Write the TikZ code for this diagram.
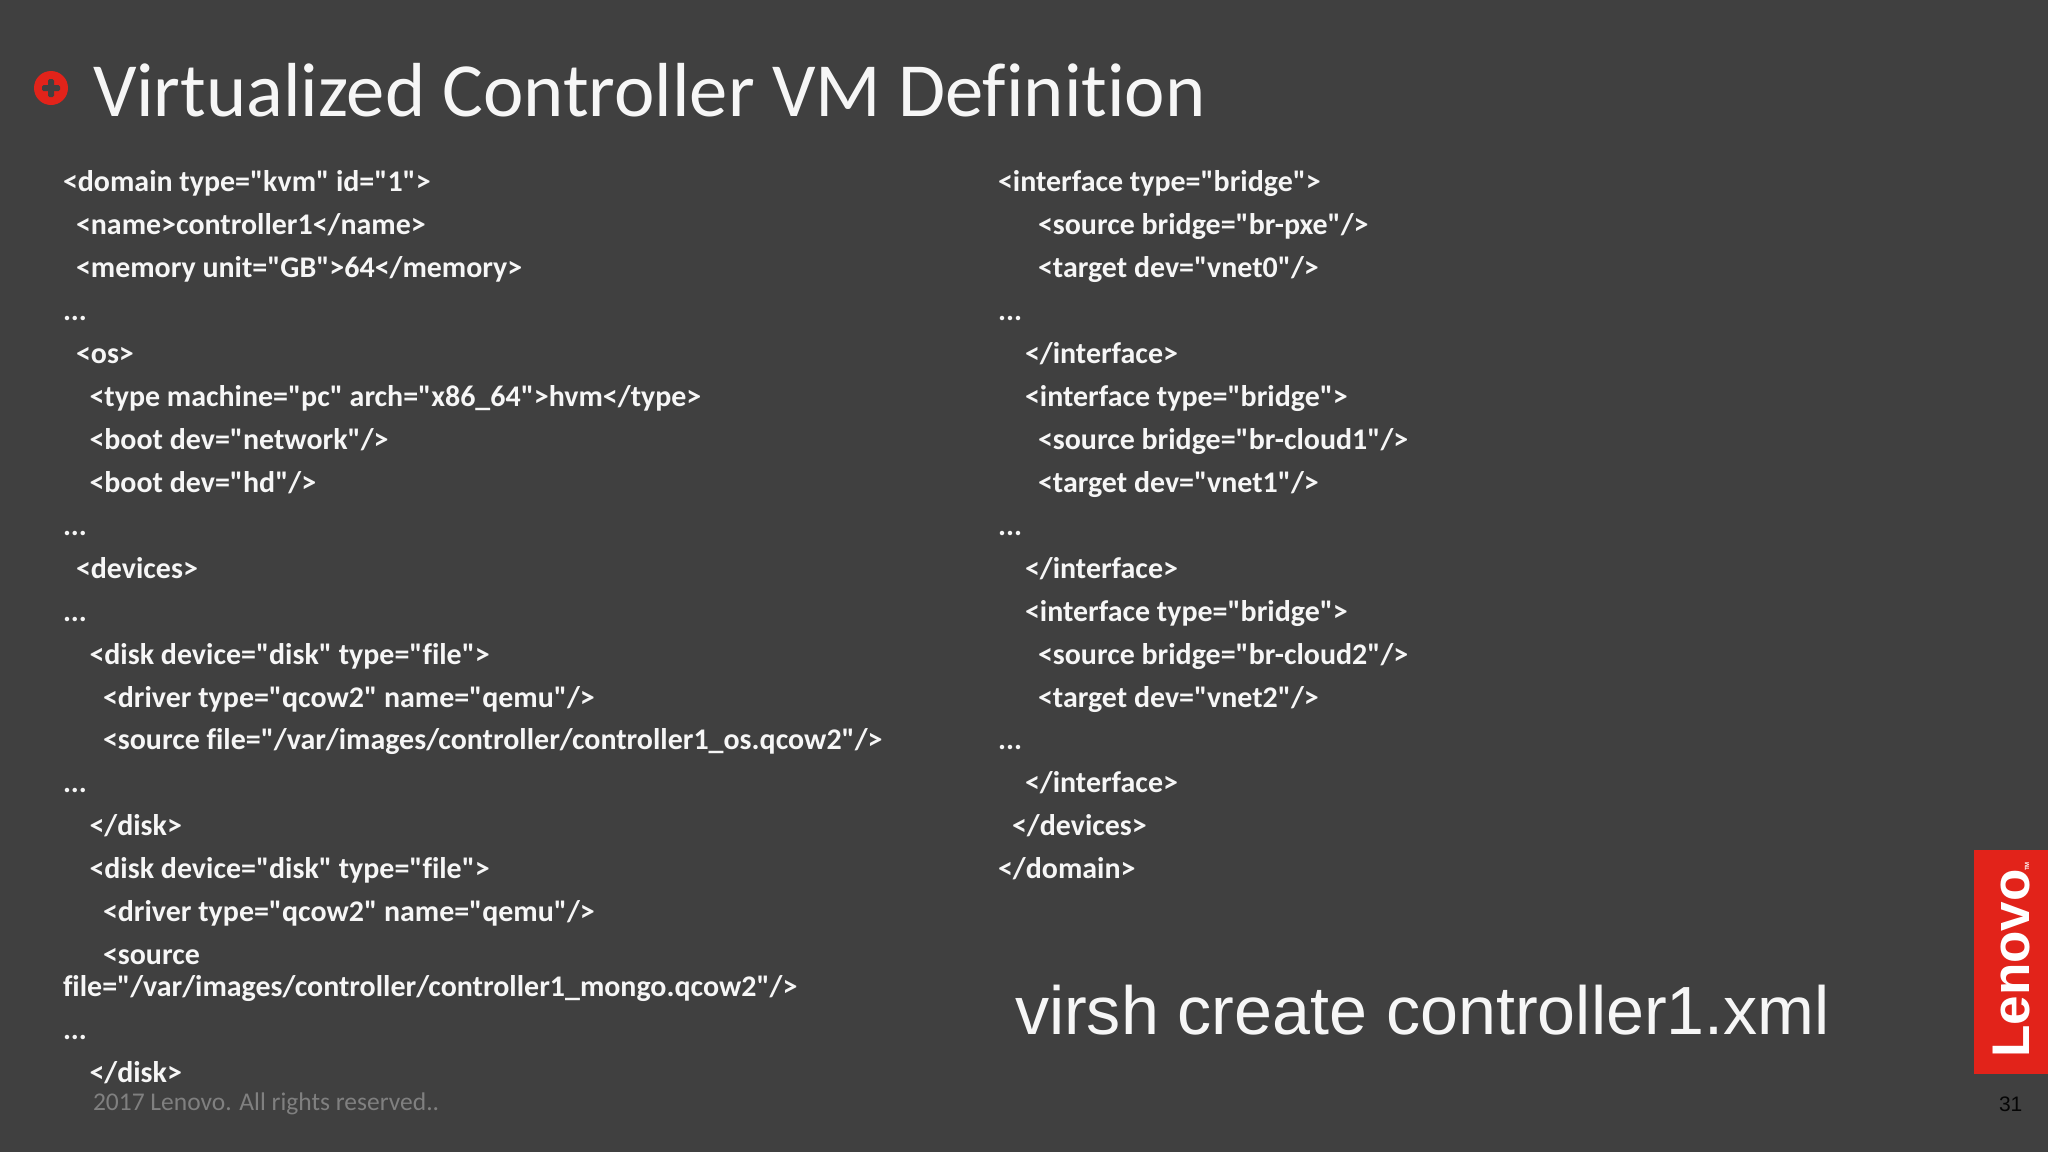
\documentclass[tikz,border=0pt]{standalone}
\usepackage{fontspec}
\setmainfont{Carlito}[Ligatures={NoCommon}]
\newfontfamily\carlitofont{Carlito}[Ligatures={NoCommon}]
\newfontfamily\arialfont{Liberation Sans}
\definecolor{slidebg}{HTML}{404040}
\definecolor{lenovored}{HTML}{E2231A}
\definecolor{codewhite}{HTML}{F6F6F6}
\tikzset{
 txt/.style={anchor=base west,inner sep=0pt,outer sep=0pt,text=codewhite},
 code/.style={txt,font=\fontsize{29.95}{34}\selectfont\carlitofont\bfseries},
}
\begin{document}
\begin{tikzpicture}[x=1pt,y=-1pt]
\path[use as bounding box,fill=slidebg] (0,0) rectangle (2048,1152);
% title
\fill[lenovored] (51,88) circle (17);
\fill[slidebg,rounded corners=1.5] (48,79) rectangle (54,97);
\fill[slidebg,rounded corners=1.5] (42,85) rectangle (60,91);
\node[txt,font=\fontsize{76.6}{84}\selectfont\carlitofont] (title) at (93,116) {Virtualized Controller VM Definition};
% left column
\node[code] (l1) at (63,191) {<domain type="kvm" id="1">};
\node[code] (l2) at (76,234) {<name>controller1</name>};
\node[code] (l3) at (76,277) {<memory unit="GB">64</memory>};
\node[code] (l4) at (63,320) {...};
\node[code] (l5) at (76,363) {<os>};
\node[code] (l6) at (89.5,406) {<type machine="pc" arch="x86\_64">hvm</type>};
\node[code] (l7) at (89.5,449) {<boot dev="network"/>};
\node[code] (l8) at (89.5,492) {<boot dev="hd"/>};
\node[code] (l9) at (63,535) {...};
\node[code] (l10) at (76,578) {<devices>};
\node[code] (l11) at (63,621) {...};
\node[code] (l12) at (89.5,664) {<disk device="disk" type="file">};
\node[code] (l13) at (103,707) {<driver type="qcow2" name="qemu"/>};
\node[code] (l14) at (103,749.5) {<source file="/var/images/controller/controller1\_os.qcow2"/>};
\node[code] (l15) at (63,792.5) {...};
\node[code] (l16) at (89.5,835.5) {</disk>};
\node[code] (l17) at (89.5,878.5) {<disk device="disk" type="file">};
\node[code] (l18) at (103,921.5) {<driver type="qcow2" name="qemu"/>};
\node[code] (l19) at (103,964) {<source};
\node[code] (l20) at (63,996) {file="/var/images/controller/controller1\_mongo.qcow2"/>};
\node[code] (l21) at (63,1039.5) {...};
\node[code] (l22) at (89.5,1082) {</disk>};
% right column
\node[code] (r1) at (998,191) {<interface type="bridge">};
\node[code] (r2) at (1038,234) {<source bridge="br-pxe"/>};
\node[code] (r3) at (1038,277) {<target dev="vnet0"/>};
\node[code] (r4) at (998,320) {...};
\node[code] (r5) at (1025,363) {</interface>};
\node[code] (r6) at (1025,406) {<interface type="bridge">};
\node[code] (r7) at (1038,449) {<source bridge="br-cloud1"/>};
\node[code] (r8) at (1038,492) {<target dev="vnet1"/>};
\node[code] (r9) at (998,535) {...};
\node[code] (r10) at (1025,578) {</interface>};
\node[code] (r11) at (1025,621) {<interface type="bridge">};
\node[code] (r12) at (1038,664) {<source bridge="br-cloud2"/>};
\node[code] (r13) at (1038,707) {<target dev="vnet2"/>};
\node[code] (r14) at (998,749.5) {...};
\node[code] (r15) at (1025,792.5) {</interface>};
\node[code] (r16) at (1012,835.5) {</devices>};
\node[code] (r17) at (998,878.5) {</domain>};
% command
\node[txt,font=\fontsize{68.2}{72}\selectfont\arialfont] (cmd) at (1015,1034) {virsh create controller1.xml};
% footer
\node[txt,text=white!50!black,font=\fontsize{25.5}{30}\selectfont\carlitofont] (copy) at (93,1110) {2017 Lenovo. All rights reserved..};
\node[txt,text=black!90!slidebg,font=\fontsize{21}{24}\selectfont\arialfont] (pg) at (1999,1111) {31};
% logo
\fill[lenovored] (1974,850) rectangle (2048,1074);
\node[anchor=base west,inner sep=0pt,rotate=90,text=white,font=\fontsize{53}{60}\selectfont\arialfont\bfseries] (logo) at (2029,1058) {Lenovo};
\node[anchor=base west,inner sep=0pt,rotate=90,text=white,font=\fontsize{6}{8}\selectfont\arialfont\bfseries] (tm) at (2029,871) {TM};
\end{tikzpicture}
\end{document}
